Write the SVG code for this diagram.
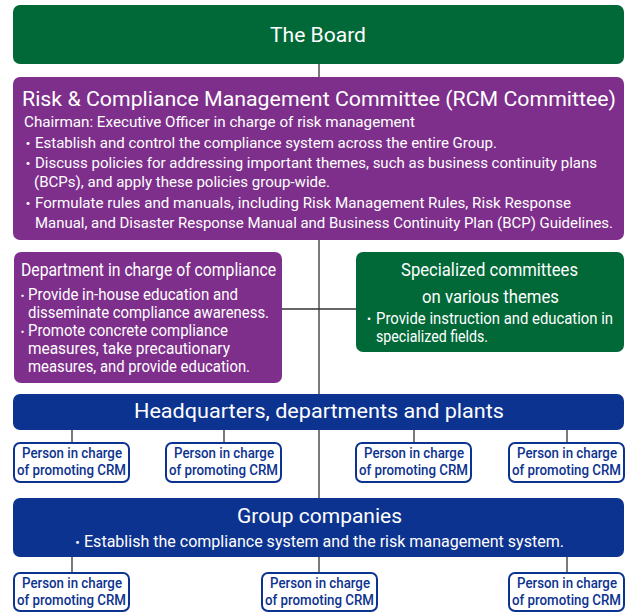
<svg xmlns="http://www.w3.org/2000/svg" width="627" height="612" viewBox="0 0 627 612">
<style>
text{font-family:Roboto,"Noto Sans","Noto Sans CJK JP",sans-serif;fill:#fff}
.b{font-family:"Noto Sans CJK JP","Noto Sans",sans-serif}
.green{fill:#006937}
.purple{fill:#7e2f8b}
.navy{fill:#0d3390}
.person rect{fill:#fff;stroke:#0d3390;stroke-width:2}
.person text{fill:#0d3390;font-size:15px;font-weight:500}
.conn line{stroke:#333;stroke-width:1.3}
.t{font-weight:400}
</style>
<g id="connectors" class="conn">
<line x1="319" y1="64" x2="319" y2="498"/>
<line x1="282" y1="309" x2="356" y2="309"/>
<line x1="72" y1="430" x2="72" y2="443"/>
<line x1="224" y1="430" x2="224" y2="443"/>
<line x1="414" y1="430" x2="414" y2="443"/>
<line x1="567" y1="430" x2="567" y2="443"/>
<line x1="72" y1="557" x2="72" y2="573"/>
<line x1="319" y1="557" x2="319" y2="573"/>
<line x1="567" y1="557" x2="567" y2="573"/>
</g>
<g id="board">
<rect class="green" x="13" y="5" width="611" height="59" rx="7"/>
<text class="t" x="270" y="42" font-size="20" textLength="96" lengthAdjust="spacingAndGlyphs">The Board</text>
</g>
<g id="rcm">
<rect class="purple" x="13" y="77" width="611" height="163" rx="7"/>
<text class="t" x="22" y="106" font-size="21" textLength="594" lengthAdjust="spacingAndGlyphs">Risk &amp; Compliance Management Committee (RCM Committee)</text>
<g font-size="15.5">
<text x="24" y="127" textLength="391" lengthAdjust="spacingAndGlyphs">Chairman: Executive Officer in charge of risk management</text>
<text><tspan class="b" x="21" y="148" font-size="14">・</tspan><tspan x="35" y="148" textLength="462" lengthAdjust="spacingAndGlyphs">Establish and control the compliance system across the entire Group.</tspan></text>
<text><tspan class="b" x="21" y="168" font-size="14">・</tspan><tspan x="35" y="168" textLength="562" lengthAdjust="spacingAndGlyphs">Discuss policies for addressing important themes, such as business continuity plans</tspan></text>
<text x="34" y="187" textLength="296" lengthAdjust="spacingAndGlyphs">(BCPs), and apply these policies group-wide.</text>
<text><tspan class="b" x="21" y="208" font-size="14">・</tspan><tspan x="35" y="208" textLength="536" lengthAdjust="spacingAndGlyphs">Formulate rules and manuals, including Risk Management Rules, Risk Response</tspan></text>
<text x="35" y="228" textLength="578" lengthAdjust="spacingAndGlyphs">Manual, and Disaster Response Manual and Business Continuity Plan (BCP) Guidelines.</text>
</g>
</g>
<g id="compliance-dept">
<rect class="purple" x="14" y="252" width="268" height="131" rx="7"/>
<text class="t" x="21" y="276" font-size="18" textLength="255" lengthAdjust="spacingAndGlyphs">Department in charge of compliance</text>
<g font-size="16">
<text><tspan class="b" x="17" y="300" font-size="11">・</tspan><tspan x="28" y="300" textLength="210" lengthAdjust="spacingAndGlyphs">Provide in-house education and</tspan></text>
<text x="28" y="318" textLength="241" lengthAdjust="spacingAndGlyphs">disseminate compliance awareness.</text>
<text><tspan class="b" x="17" y="336" font-size="11">・</tspan><tspan x="28" y="336" textLength="200" lengthAdjust="spacingAndGlyphs">Promote concrete compliance</tspan></text>
<text x="28" y="354" textLength="202" lengthAdjust="spacingAndGlyphs">measures, take precautionary</text>
<text x="28" y="372" textLength="222" lengthAdjust="spacingAndGlyphs">measures, and provide education.</text>
</g>
</g>
<g id="specialized-committees">
<rect class="green" x="356" y="252" width="268" height="100" rx="7"/>
<text class="t" x="401" y="276" font-size="19" textLength="177" lengthAdjust="spacingAndGlyphs">Specialized committees</text>
<text class="t" x="422" y="303" font-size="19" textLength="137" lengthAdjust="spacingAndGlyphs">on various themes</text>
<g font-size="16">
<text><tspan class="b" x="363" y="324" font-size="12">・</tspan><tspan x="376" y="324" textLength="237" lengthAdjust="spacingAndGlyphs">Provide instruction and education in</tspan></text>
<text x="376" y="342" textLength="112" lengthAdjust="spacingAndGlyphs">specialized fields.</text>
</g>
</g>
<g id="headquarters">
<rect class="navy" x="13" y="394" width="611" height="36" rx="7"/>
<text class="t" x="134" y="418" font-size="20" textLength="370" lengthAdjust="spacingAndGlyphs">Headquarters, departments and plants</text>
</g>
<g id="hq-person-1" class="person">
<rect x="14" y="443" width="115" height="39" rx="6"/>
<text x="22" y="458" textLength="100" lengthAdjust="spacingAndGlyphs">Person in charge</text>
<text x="17" y="475" textLength="109" lengthAdjust="spacingAndGlyphs">of promoting CRM</text>
</g>
<g id="hq-person-2" class="person">
<rect x="166" y="443" width="115" height="39" rx="6"/>
<text x="174" y="458" textLength="100" lengthAdjust="spacingAndGlyphs">Person in charge</text>
<text x="169" y="475" textLength="109" lengthAdjust="spacingAndGlyphs">of promoting CRM</text>
</g>
<g id="hq-person-3" class="person">
<rect x="356" y="443" width="115" height="39" rx="6"/>
<text x="364" y="458" textLength="100" lengthAdjust="spacingAndGlyphs">Person in charge</text>
<text x="359" y="475" textLength="109" lengthAdjust="spacingAndGlyphs">of promoting CRM</text>
</g>
<g id="hq-person-4" class="person">
<rect x="509" y="443" width="115" height="39" rx="6"/>
<text x="517" y="458" textLength="100" lengthAdjust="spacingAndGlyphs">Person in charge</text>
<text x="512" y="475" textLength="109" lengthAdjust="spacingAndGlyphs">of promoting CRM</text>
</g>
<g id="group-companies">
<rect class="navy" x="13" y="498" width="611" height="59" rx="7"/>
<text class="t" x="237" y="523" font-size="20" textLength="165" lengthAdjust="spacingAndGlyphs">Group companies</text>
<text font-size="16"><tspan class="b" x="71" y="547" font-size="13">・</tspan><tspan x="84" y="547" textLength="480" lengthAdjust="spacingAndGlyphs">Establish the compliance system and the risk management system.</tspan></text>
</g>
<g id="gc-person-1" class="person">
<rect x="14" y="573" width="115" height="38" rx="6"/>
<text x="22" y="588" textLength="100" lengthAdjust="spacingAndGlyphs">Person in charge</text>
<text x="17" y="605" textLength="109" lengthAdjust="spacingAndGlyphs">of promoting CRM</text>
</g>
<g id="gc-person-2" class="person">
<rect x="262" y="573" width="115" height="38" rx="6"/>
<text x="270" y="588" textLength="100" lengthAdjust="spacingAndGlyphs">Person in charge</text>
<text x="265" y="605" textLength="109" lengthAdjust="spacingAndGlyphs">of promoting CRM</text>
</g>
<g id="gc-person-3" class="person">
<rect x="509" y="573" width="115" height="38" rx="6"/>
<text x="517" y="588" textLength="100" lengthAdjust="spacingAndGlyphs">Person in charge</text>
<text x="512" y="605" textLength="109" lengthAdjust="spacingAndGlyphs">of promoting CRM</text>
</g>
</svg>
